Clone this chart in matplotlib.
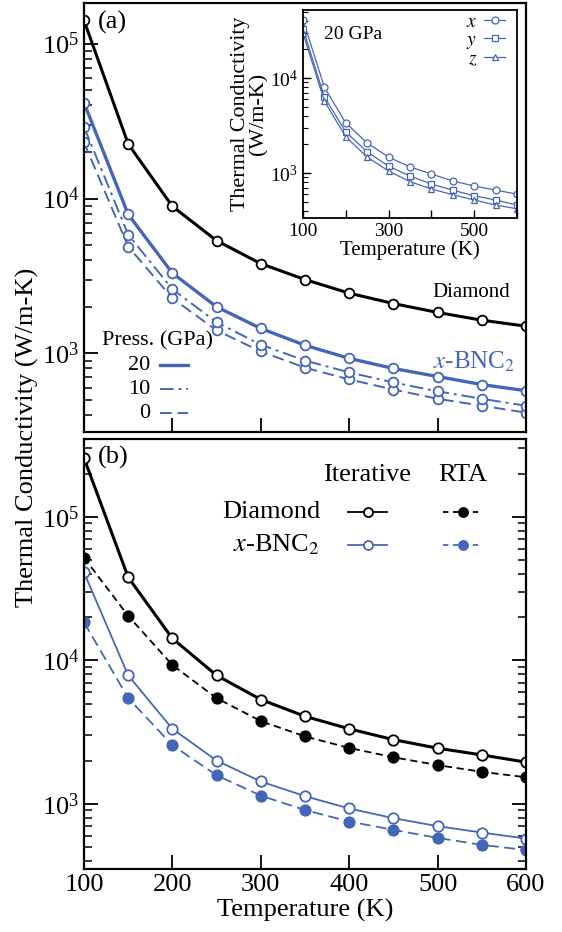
import numpy as np
import matplotlib
matplotlib.use("Agg")
import matplotlib.pyplot as plt
from matplotlib.ticker import LogLocator, NullFormatter
from matplotlib.lines import Line2D

plt.rcParams['font.family'] = ['Liberation Serif', 'DejaVu Serif']
plt.rcParams['mathtext.fontset'] = 'stix'
plt.rcParams['xtick.direction'] = 'in'
plt.rcParams['ytick.direction'] = 'in'

# temperatures (K)
temps = [100, 150, 200, 250, 300, 350, 400, 450, 500, 550, 600]

# panel (a): pressure dependence
diamond_a = [1.41e5, 2.25e4, 8.9e3, 5.35e3, 3.8e3, 3.0e3, 2.45e3, 2.1e3, 1.84e3, 1.64e3, 1.5e3]
bnc_20 = [4.15e4, 7.9e3, 3.3e3, 2.0e3, 1.45e3, 1.13e3, 930, 800, 710, 630, 575]
bnc_10 = [2.9e4, 5.85e3, 2.6e3, 1.59e3, 1.14e3, 900, 755, 650, 570, 510, 460]
bnc_0 = [2.3e4, 4.9e3, 2.27e3, 1.41e3, 1.03e3, 810, 680, 585, 510, 460, 415]
press_labels = ['20', '10', '0']

# inset: 20 GPa, directions
inset_x = [4.1e4, 8.0e3, 3.36e3, 2.07e3, 1.47e3, 1.16e3, 975, 825, 730, 660, 600]
inset_y = [3.3e4, 6.3e3, 2.7e3, 1.67e3, 1.18e3, 930, 765, 660, 575, 520, 460]
inset_z = [2.97e4, 5.7e3, 2.4e3, 1.47e3, 1.05e3, 810, 680, 590, 520, 460, 420]

# panel (b): iterative vs RTA
diamond_iter = [2.57e5, 3.79e4, 1.42e4, 7.85e3, 5.33e3, 4.07e3, 3.33e3, 2.8e3, 2.44e3, 2.19e3, 1.95e3]
diamond_rta = [5.2e4, 2.04e4, 9.27e3, 5.45e3, 3.77e3, 2.95e3, 2.45e3, 2.11e3, 1.86e3, 1.67e3, 1.53e3]
bnc_iter = [4.1e4, 7.85e3, 3.33e3, 2.0e3, 1.43e3, 1.13e3, 927, 794, 698, 630, 572]
bnc_rta = [1.84e4, 5.45e3, 2.56e3, 1.58e3, 1.14e3, 904, 752, 658, 578, 517, 476]

blue = '#4566b8'
fs = 19
dash0 = (0, (6, 3))
dashdot10 = (0, (7, 2.5, 1.5, 2.5))

fig = plt.figure(figsize=(5.62, 9.32), dpi=100)
W, H = 562.0, 932.0

def px_axes(l, t, r, b):
    return fig.add_axes([l / W, 1 - b / H, (r - l) / W, (b - t) / H])

def fig_pt(x, y):
    return (x / W, 1 - y / H)

def fig_line(x0, x1, y, **kw):
    a, yy = fig_pt(x0, y)
    b, _ = fig_pt(x1, y)
    fig.add_artist(Line2D([a, b], [yy, yy], transform=fig.transFigure, **kw))

def fig_marker(x, y, **kw):
    a, yy = fig_pt(x, y)
    fig.add_artist(Line2D([a], [yy], transform=fig.transFigure, ls='none', **kw))

ax_a = px_axes(84, 3.3, 526, 432.5)
ax_b = px_axes(84, 439, 526, 869)
ax_in = px_axes(303, 10, 517, 218)

for ax in (ax_a, ax_b):
    ax.set_yscale('log')
    ax.set_xlim(100, 600)
    ax.set_xticks([100, 200, 300, 400, 500, 600])
    ax.yaxis.set_major_locator(LogLocator(base=10, numticks=10))
    ax.yaxis.set_minor_locator(LogLocator(base=10, subs=np.arange(2, 10), numticks=20))
    ax.yaxis.set_minor_formatter(NullFormatter())
    ax.tick_params(which='major', length=10, width=1.3, labelsize=fs)
    ax.tick_params(which='minor', length=6, width=1.1)
    for s in ax.spines.values():
        s.set_linewidth(1.6)

ax_a.set_ylim(309, 1.82e5)
ax_b.set_ylim(351, 3.49e5)
ax_a.tick_params(labelbottom=False, right=False, which='both')
ax_b.tick_params(right=True, which='both')

# panel (a)
mk = dict(marker='o', ms=7, mfc='white', mew=1.3)
ax_a.plot(temps, diamond_a, color='black', lw=2.2, mec='black', **mk)
ax_a.plot(temps, bnc_0, color=blue, lw=1.4, ls=dash0, mec=blue, **mk)
ax_a.plot(temps, bnc_10, color=blue, lw=1.4, ls=dashdot10, mec=blue, **mk)
ax_a.plot(temps, bnc_20, color=blue, lw=2.4, mec=blue, **mk)

fig.text(*fig_pt(98, 22), '(a)', fontsize=fs, va='center')
ax_a.text(0.965, 0.327, 'Diamond', transform=ax_a.transAxes, fontsize=15, ha='right', va='center')
ax_a.text(0.975, 0.164, r'$\mathit{x}$-BNC$_2$', transform=ax_a.transAxes, fontsize=18,
          ha='right', va='center', color=blue)

# pressure legend, drawn by hand
fig.text(*fig_pt(102, 341), 'Press. (GPa)', fontsize=16, va='center')
press_styles = [dict(lw=2.4, ls='-'), dict(lw=1.4, ls=dashdot10), dict(lw=1.4, ls=dash0)]
for i, (lab, st) in enumerate(zip(press_labels, press_styles)):
    ypx = 365 + 24 * i
    fig.text(*fig_pt(150, ypx), lab, fontsize=16, ha='right', va='center')
    fig_line(160, 188, ypx, color=blue, **st)

# inset
ax_in.set_yscale('log')
ax_in.set_xlim(100, 600)
ax_in.set_ylim(336, 5.2e4)
ax_in.set_xticks([100, 200, 300, 400, 500, 600])
ax_in.set_xticklabels(['100', '', '300', '', '500', ''])
ax_in.yaxis.set_major_locator(LogLocator(base=10, numticks=10))
ax_in.yaxis.set_minor_locator(LogLocator(base=10, subs=np.arange(2, 10), numticks=20))
ax_in.yaxis.set_minor_formatter(NullFormatter())
ax_in.tick_params(which='major', length=6, width=1.0, labelsize=14)
ax_in.tick_params(which='minor', length=3.5, width=0.8)
for s in ax_in.spines.values():
    s.set_linewidth(1.3)
mi = dict(ms=5, mfc='white', mew=0.9, color=blue, lw=0.9, mec=blue)
ax_in.plot(temps, inset_x, marker='o', label=r'$\mathit{x}$', **mi)
ax_in.plot(temps, inset_y, marker='s', label=r'$\mathit{y}$', **mi)
ax_in.plot(temps, inset_z, marker='^', label=r'$\mathit{z}$', **mi)
ax_in.legend(loc='upper right', bbox_to_anchor=(1.0, 1.04), frameon=False, fontsize=14,
             markerfirst=False, handlelength=1.1, handletextpad=0.35, labelspacing=0.0,
             borderpad=0.3, borderaxespad=0.3)
ax_in.text(0.1, 0.88, '20 GPa', transform=ax_in.transAxes, fontsize=14, va='center')
ax_in.set_xlabel('Temperature (K)', fontsize=15, labelpad=0)
ax_in.set_ylabel('Thermal Conductivity\n(W/m-K)', fontsize=15.8, labelpad=1, linespacing=0.95)

# panel (b)
mb = dict(marker='o', ms=7.5, mew=1.3)
ax_b.plot(temps, diamond_rta, color='black', lw=1.3, ls=(0, (4, 2.5)), mfc='black', mec='black', **mb)
ax_b.plot(temps, diamond_iter, color='black', lw=2.2, mfc='white', mec='black', **mb)
ax_b.plot(temps, bnc_rta, color=blue, lw=1.3, ls=dash0, mfc=blue, mec=blue, **mb)
ax_b.plot(temps, bnc_iter, color=blue, lw=1.3, mfc='white', mec=blue, **mb)

fig.text(*fig_pt(98, 457), '(b)', fontsize=fs, va='center')

# table-style legend for panel (b)
fig.text(*fig_pt(367, 475), 'Iterative', fontsize=fs, ha='center', va='center')
fig.text(*fig_pt(463, 475), 'RTA', fontsize=fs, ha='center', va='center')
fig.text(*fig_pt(320, 512), 'Diamond', fontsize=fs, ha='right', va='center')
fig.text(*fig_pt(320, 545), r'$\mathit{x}$-BNC$_2$', fontsize=fs, ha='right', va='center')

for ypx, c in [(512, 'black'), (545, blue)]:
    fig_line(348, 387, ypx, color=c, lw=1.3)
    fig_marker(368, ypx, color=c, marker='o', ms=6.5, mfc='white', mec=c, mew=1.3)
    fig_line(443, 482, ypx, color=c, lw=1.3, ls=(0, (3, 2.5)))
    fig_marker(463, ypx, color=c, marker='o', ms=6.5, mfc=c, mec=c, mew=1.3)

ax_b.set_xlabel('Temperature (K)', fontsize=fs, labelpad=2)
fig.text(*fig_pt(27, 437), 'Thermal Conductivity (W/m-K)', fontsize=fs, rotation=90,
         ha='center', va='center')

fig.savefig('out.png', dpi=100)
